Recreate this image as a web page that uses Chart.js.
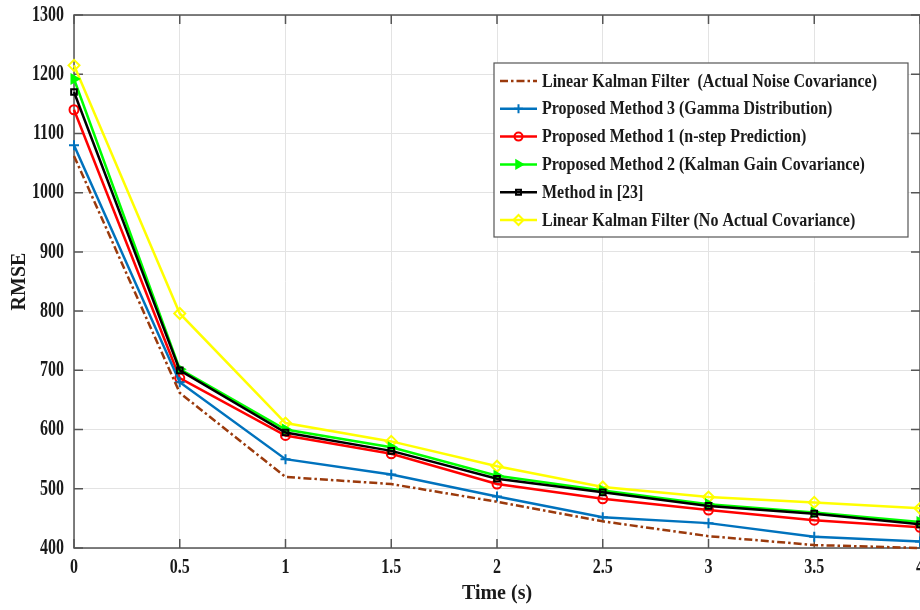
<!DOCTYPE html>
<html>
<head>
<meta charset="utf-8">
<script src="https://cdn.jsdelivr.net/npm/chart.js@4/dist/chart.umd.min.js"></script>
<style>
html, body { margin: 0; padding: 0; background: #fff; overflow: hidden; }
</style>
</head>
<body>
<canvas id="myChart" width="920" height="610"></canvas>
<script>
// values
const times = [0, 0.5, 1, 1.5, 2, 2.5, 3, 3.5, 4];
const lkfActual = [1062, 662, 520, 508, 478, 445, 420, 405, 400];
const method3 = [1080, 680, 550, 524, 487, 452, 442, 419, 411];
const method1 = [1140, 687, 590, 559, 508, 483, 464, 447, 435];
const method2 = [1192, 702, 600, 570, 522, 497, 474, 460, 444];
const method23 = [1170, 700, 595, 564, 517, 494, 471, 458, 440];
const lkfNoActual = [1215, 796, 611, 580, 538, 503, 486, 477, 467];

const seriesNames = [
    'Linear Kalman Filter  (Actual Noise Covariance)',
    'Proposed Method 3 (Gamma Distribution)',
    'Proposed Method 1 (n-step Prediction)',
    'Proposed Method 2 (Kalman Gain Covariance)',
    'Method in [23]',
    'Linear Kalman Filter (No Actual Covariance)'
];

const serif = "'Liberation Serif', 'Times New Roman', serif";
const textColor = '#1a1a1a';

const ctx = document.getElementById('myChart');

// the source figure is stretched vertically, so tick text is drawn taller than wide
const drawTall = (c, text, x, y, align, stretch) => {
    c.save();
    c.translate(x, y);
    c.scale(1, stretch);
    c.textAlign = align;
    c.textBaseline = 'middle';
    c.fillText(text, 0, 0);
    c.restore();
};

const framePlugin = {
    id: 'frame',
    beforeDatasetsDraw: (chart) => {
        const c = chart.ctx;
        const a = chart.chartArea;
        const xs = chart.scales.x;
        const ys = chart.scales.y;
        c.save();
        c.strokeStyle = '#555';
        c.lineWidth = 1.5;
        c.strokeRect(a.left, a.top, a.right - a.left, a.bottom - a.top);
        c.beginPath();
        xs.ticks.forEach((t) => {
            const px = xs.getPixelForValue(t.value);
            c.moveTo(px, a.bottom);
            c.lineTo(px, a.bottom - 9);
            c.moveTo(px, a.top);
            c.lineTo(px, a.top + 9);
        });
        ys.ticks.forEach((t) => {
            const py = ys.getPixelForValue(t.value);
            c.moveTo(a.left, py);
            c.lineTo(a.left + 9, py);
            c.moveTo(a.right, py);
            c.lineTo(a.right - 9, py);
        });
        c.stroke();

        // tick labels
        c.fillStyle = textColor;
        c.font = 'bold 16px ' + serif;
        xs.ticks.forEach((t) => {
            drawTall(c, String(t.value), xs.getPixelForValue(t.value), a.bottom + 20, 'center', 1.3);
        });
        ys.ticks.forEach((t) => {
            drawTall(c, String(t.value), a.left - 10, ys.getPixelForValue(t.value), 'right', 1.4);
        });
        c.restore();
    }
};

// legend drawn by hand inside the plot, like the matlab figure
const legendPlugin = {
    id: 'insideLegend',
    afterDraw: (chart) => {
        const c = chart.ctx;
        const boxX = 494, boxY = 63, boxW = 414, boxH = 174;
        const rowH = 27.8;
        c.save();
        c.fillStyle = '#fff';
        c.fillRect(boxX, boxY, boxW, boxH);
        c.strokeStyle = '#555';
        c.lineWidth = 1.2;
        c.strokeRect(boxX, boxY, boxW, boxH);
        c.font = 'bold 16px ' + serif;
        chart.data.datasets.forEach((ds, i) => {
            const y = boxY + 18 + i * rowH;
            c.strokeStyle = ds.borderColor;
            c.lineWidth = ds.borderWidth;
            c.setLineDash(ds.borderDash || []);
            c.beginPath();
            c.moveTo(500, y);
            c.lineTo(537, y);
            c.stroke();
            c.setLineDash([]);
            if (ds.pointRadius > 0) {
                c.fillStyle = ds.pointBackgroundColor;
                c.lineWidth = ds.pointBorderWidth;
                Chart.helpers.drawPoint(c, {
                    pointStyle: ds.pointStyle,
                    rotation: ds.pointRotation || 0,
                    radius: ds.pointRadius - 0.5,
                    borderWidth: ds.pointBorderWidth
                }, 518.5, y);
            }
            c.fillStyle = textColor;
            drawTall(c, ds.label, 542, y + 1, 'left', 1.12);
        });
        c.restore();
    }
};

const data = {
    labels: times,
    datasets: [
        {
            label: seriesNames[0],
            data: lkfActual,
            borderColor: '#9b3a0c',
            borderWidth: 2.5,
            borderDash: [8, 3, 2.5, 3],
            pointRadius: 0,
            order: 1
        },
        {
            label: seriesNames[1],
            data: method3,
            borderColor: '#0072BD',
            borderWidth: 2.5,
            pointStyle: 'cross',
            pointRadius: 5,
            pointBorderWidth: 2,
            pointBackgroundColor: '#0072BD',
            pointBorderColor: '#0072BD',
            order: 2
        },
        {
            label: seriesNames[2],
            data: method1,
            borderColor: '#ff0000',
            borderWidth: 2.5,
            pointStyle: 'circle',
            pointRadius: 4.5,
            pointBorderWidth: 2,
            pointBackgroundColor: 'rgba(0,0,0,0)',
            pointBorderColor: '#ff0000',
            order: 4
        },
        {
            label: seriesNames[3],
            data: method2,
            borderColor: '#00ff00',
            borderWidth: 2.5,
            pointStyle: 'triangle',
            pointRotation: 90,
            pointRadius: 5,
            pointBorderWidth: 2,
            pointBackgroundColor: '#00ff00',
            pointBorderColor: '#00ff00',
            order: 3
        },
        {
            label: seriesNames[4],
            data: method23,
            borderColor: '#000000',
            borderWidth: 2.5,
            pointStyle: 'rect',
            pointRadius: 4,
            pointBorderWidth: 2,
            pointBackgroundColor: 'rgba(0,0,0,0)',
            pointBorderColor: '#000000',
            order: 0
        },
        {
            label: seriesNames[5],
            data: lkfNoActual,
            borderColor: '#ffff00',
            borderWidth: 2.5,
            pointStyle: 'rectRot',
            pointRadius: 5.5,
            pointBorderWidth: 2,
            pointBackgroundColor: 'rgba(0,0,0,0)',
            pointBorderColor: '#ffff00',
            order: 5
        }
    ]
};

const options = {
    responsive: false,
    animation: false,
    clip: false,
    plugins: {
        legend: { display: false },
        tooltip: { enabled: false }
    },
    layout: {
        autoPadding: false,
        padding: { top: 15, left: 0, right: 0, bottom: 0 }
    },
    scales: {
        x: {
            type: 'linear',
            min: 0,
            max: 4,
            ticks: { stepSize: 0.5, display: false },
            grid: { color: '#e3e3e3', lineWidth: 1, drawTicks: false },
            border: { display: false },
            title: {
                display: true,
                text: 'Time (s)',
                color: textColor,
                font: { family: serif, weight: 'bold', size: 20 },
                padding: { top: 0, bottom: 4 }
            },
            afterFit: (scale) => {
                scale.height = 62;
                scale.paddingLeft = 0;
                scale.paddingRight = 0;
            }
        },
        y: {
            min: 400,
            max: 1300,
            ticks: { stepSize: 100, display: false },
            grid: { color: '#e3e3e3', lineWidth: 1, drawTicks: false },
            border: { display: false },
            title: {
                display: true,
                text: 'RMSE',
                color: textColor,
                font: { family: serif, weight: 'bold', size: 20 },
                padding: { top: 8, bottom: 0 }
            },
            afterFit: (scale) => {
                scale.width = 74;
                scale.paddingTop = 0;
                scale.paddingBottom = 0;
            }
        }
    }
};

const myChart = new Chart(ctx, {
    type: 'line',
    data: data,
    options: options,
    plugins: [framePlugin, legendPlugin]
});
</script>
</body>
</html>
